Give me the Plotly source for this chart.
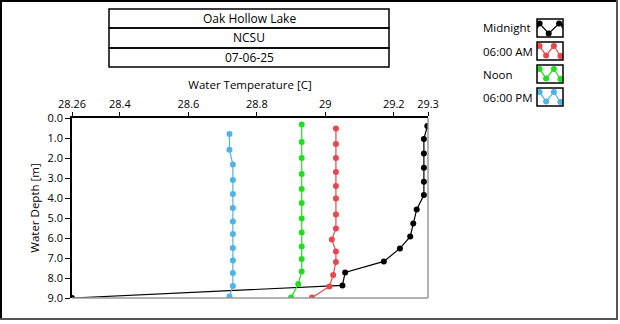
import plotly.graph_objects as go

# ---------------- data ----------------
series_names = ["Midnight", "06:00 AM", "Noon", "06:00 PM"]
series_colors = ["#000000", "#e8474b", "#22dd22", "#4db3e8"]

midnight_depth = [0.4, 1.05, 1.77, 2.49, 3.19, 3.85, 4.57, 5.27, 5.93, 6.52, 7.17, 7.72, 8.37, 9.0]
midnight_temp = [29.298, 29.288, 29.288, 29.288, 29.288, 29.288, 29.267, 29.257, 29.248, 29.218, 29.171, 29.058, 29.05, 28.26]

am_depth = [0.53, 1.3, 2.0, 2.7, 3.4, 4.03, 4.82, 5.52, 6.07, 6.68, 7.2, 7.85, 8.42, 8.98]
am_temp = [29.031, 29.031, 29.031, 29.031, 29.031, 29.031, 29.031, 29.031, 29.019, 29.031, 29.031, 29.023, 29.012, 28.961]

noon_depth = [0.33, 1.2, 2.0, 2.8, 3.55, 4.25, 5.03, 5.73, 6.43, 7.05, 7.68, 8.3, 8.98]
noon_temp = [28.931, 28.931, 28.931, 28.931, 28.931, 28.931, 28.931, 28.931, 28.931, 28.931, 28.931, 28.921, 28.90]

pm_depth = [0.8, 1.585, 2.33, 3.1, 3.8, 4.5, 5.18, 5.8, 6.5, 7.13, 7.75, 8.4, 8.93]
pm_temp = [28.72, 28.72, 28.73, 28.73, 28.73, 28.73, 28.73, 28.73, 28.73, 28.73, 28.73, 28.73, 28.72]

x_tickvals = [28.26, 28.4, 28.6, 28.8, 29.0, 29.2, 29.3]
x_ticktext = ["28.26", "28.4", "28.6", "28.8", "29", "29.2", "29.3"]
y_tickvals = [0, 1, 2, 3, 4, 5, 6, 7, 8, 9]
y_ticktext = ["0.0", "1.0", "2.0", "3.0", "4.0", "5.0", "6.0", "7.0", "8.0", "9.0"]

title_lines = ["Oak Hollow Lake", "NCSU", "07-06-25"]

# legend swatch patterns (in unit box coordinates)
swatch_midnight_x = [-0.05, 0.1, 0.45, 0.85, 1.05]
swatch_midnight_y = [0.6, 0.75, 0.2, 0.75, 0.6]
swatch_wave_x = [0.1, 0.35, 0.65, 0.9]
swatch_wave_y = [0.78, 0.25, 0.78, 0.22]

# ---------------- layout helpers ----------------
W, H = 620, 324
FONT = "Open Sans"


def px(x):
    return x / W


def py(y):
    return 1 - y / H


depths = [midnight_depth, am_depth, noon_depth, pm_depth]
temps = [midnight_temp, am_temp, noon_temp, pm_temp]

fig = go.Figure()
for name, color, d, t in zip(series_names, series_colors, depths, temps):
    fig.add_trace(go.Scatter(
        x=t, y=d, mode="lines+markers", name=name,
        line=dict(color=color, width=1.2),
        marker=dict(color=color, size=6, symbol="circle"),
        showlegend=False, xaxis="x", yaxis="y",
    ))

# legend swatches
box_tops = [19, 42, 65, 88]
box_h = 18
layout_extra = {}
for i, (name, color) in enumerate(zip(series_names, series_colors)):
    k = i + 2
    top = box_tops[i]
    layout_extra[f"xaxis{k}"] = dict(domain=[px(537), px(563)], range=[0, 1], visible=False, fixedrange=True, anchor=f"y{k}")
    layout_extra[f"yaxis{k}"] = dict(domain=[py(top + box_h), py(top)], range=[0, 1], visible=False, fixedrange=True, anchor=f"x{k}")
    if i == 0:
        sx, sy = swatch_midnight_x, swatch_midnight_y
    else:
        sx, sy = swatch_wave_x, swatch_wave_y
    fig.add_trace(go.Scatter(
        x=sx, y=sy, mode="lines+markers",
        line=dict(color=color, width=1.2),
        marker=dict(color=color, size=6),
        showlegend=False, xaxis=f"x{k}", yaxis=f"y{k}", cliponaxis=True,
        hoverinfo="skip",
    ))

shapes = []
annotations = []

# outer frame
shapes.append(dict(type="line", xref="paper", yref="paper", x0=px(0), x1=px(618), y0=py(1), y1=py(1), line=dict(color="#000000", width=2)))
shapes.append(dict(type="line", xref="paper", yref="paper", x0=px(1), x1=px(1), y0=py(0), y1=py(320), line=dict(color="#000000", width=2)))
shapes.append(dict(type="line", xref="paper", yref="paper", x0=px(617), x1=px(617), y0=py(0), y1=py(320), line=dict(color="#555555", width=2)))
shapes.append(dict(type="line", xref="paper", yref="paper", x0=px(0), x1=px(618), y0=py(319), y1=py(319), line=dict(color="#555555", width=2)))

# plot area right/bottom border (gray)
shapes.append(dict(type="line", xref="paper", yref="paper", x0=px(428), x1=px(428), y0=py(118), y1=py(298), line=dict(color="#9a9a9a", width=1.5)))
shapes.append(dict(type="line", xref="paper", yref="paper", x0=px(72), x1=px(428), y0=py(298), y1=py(298), line=dict(color="#9a9a9a", width=1.5)))

# title boxes
box_rows = [(9, 28), (28, 48), (48, 67)]
for (y0, y1), text in zip(box_rows, title_lines):
    shapes.append(dict(type="rect", xref="paper", yref="paper", x0=px(109), x1=px(389), y0=py(y1), y1=py(y0), line=dict(color="#000000", width=1.5)))
    annotations.append(dict(text=text, xref="paper", yref="paper", x=px(249), y=py((y0 + y1) / 2), showarrow=False,
                            xanchor="center", yanchor="middle", font=dict(family=FONT, size=12, color="#000000")))

# legend boxes and labels
for i, name in enumerate(series_names):
    top = box_tops[i]
    shapes.append(dict(type="rect", xref="paper", yref="paper", x0=px(537), x1=px(563), y0=py(top + box_h), y1=py(top), line=dict(color="#000000", width=1.5)))
    annotations.append(dict(text=name, xref="paper", yref="paper", x=px(481), y=py(top + box_h / 2), showarrow=False,
                            xanchor="left", yanchor="middle", font=dict(family=FONT, size=11.5, color="#000000")))

fig.update_layout(
    width=W, height=H,
    margin=dict(l=0, r=0, t=0, b=0),
    paper_bgcolor="white", plot_bgcolor="white",
    font=dict(family=FONT, size=11, color="#000000"),
    xaxis=dict(
        domain=[px(72), px(428)], range=[28.26, 29.3], side="top", anchor="y",
        tickvals=x_tickvals, ticktext=x_ticktext, ticks="outside", ticklen=4, tickcolor="#000000",
        showline=True, linecolor="#000000", linewidth=1.5, showgrid=False, zeroline=False,
        tickfont=dict(family=FONT, size=11, color="#000000"),
        title=dict(text="Water Temperature [C]", font=dict(family=FONT, size=11.5, color="#000000"), standoff=4),
        automargin=False,
    ),
    yaxis=dict(
        domain=[py(298), py(118)], range=[9, 0], anchor="x",
        tickvals=y_tickvals, ticktext=y_ticktext, ticks="outside", ticklen=5, tickcolor="#000000",
        showline=True, linecolor="#000000", linewidth=1.5, showgrid=False, zeroline=False,
        tickfont=dict(family=FONT, size=11, color="#000000"),
        title=dict(text="Water Depth [m]", font=dict(family=FONT, size=11.5, color="#000000"), standoff=6),
        automargin=False,
    ),
    shapes=shapes,
    annotations=annotations,
    showlegend=False,
    **layout_extra,
)

fig.write_html("out.html")
